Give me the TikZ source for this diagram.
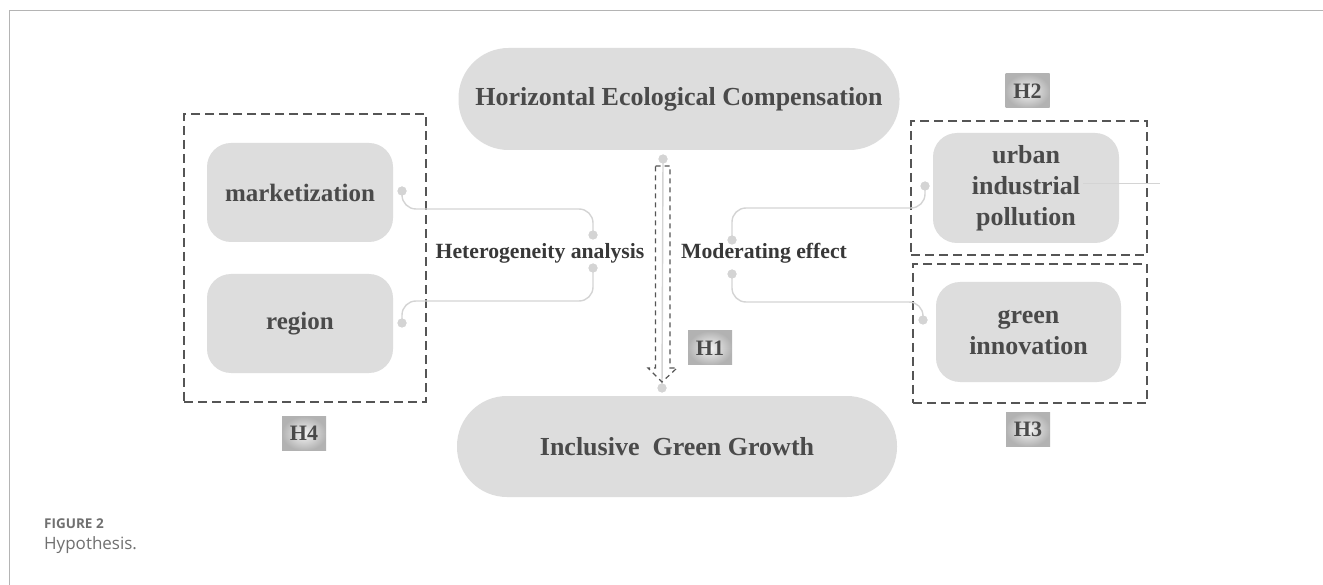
\documentclass[tikz,border=0pt]{standalone}
\usepackage{fontspec}
\setmainfont{Liberation Serif}
\newfontfamily\capfont{Open Sans}
\usetikzlibrary{calc}
\definecolor{boxfill}{HTML}{DDDDDD}
\definecolor{txt}{HTML}{4A4A4A}
\definecolor{linec}{HTML}{D4D4D4}
\definecolor{dashc}{HTML}{555555}
\definecolor{framec}{HTML}{B4B4B4}
\definecolor{capc}{HTML}{707070}
\begin{document}
\begin{tikzpicture}[x=1pt,y=-1pt,
  capsule/.style={fill=boxfill, rounded corners=50pt, minimum width=441pt, minimum height=102pt,
    inner sep=0pt, text=txt, font=\bfseries\fontsize{26}{31}\selectfont},
  rbox/.style={fill=boxfill, rounded corners=24pt, inner sep=0pt, text=txt, align=center,
    font=\bfseries\fontsize{26}{31}\selectfont},
  grp/.style={draw=dashc, line width=1.4pt, dash pattern=on 9pt off 5pt, inner sep=0pt},
  hlab/.style={inner sep=0pt, minimum width=44pt, minimum height=34pt, inner color=gray!8,
    outer color=gray!60, text=txt, font=\bfseries\fontsize{22}{22}\selectfont},
  effect/.style={text=black!78, inner sep=0pt, font=\bfseries\fontsize{21.7}{24}\selectfont},
  conn/.style={draw=linec, line width=1.4pt, rounded corners=14pt},
  dot/.style={circle, fill=linec, inner sep=0pt, minimum size=9pt},
  arrowline/.style={draw=dashc, line width=1.2pt, dash pattern=on 5pt off 4pt, line join=miter},
  capt/.style={anchor=west, inner sep=0pt, text=capc},
]
\useasboundingbox (0,0) rectangle (1323,585);
\fill[white] (0,0) rectangle (1323,585);

% page frame (top and left rules)
\coordinate (frameTR) at (1323,10.5);
\coordinate (frameTL) at (9.5,10.5);
\coordinate (frameBL) at (9.5,585);
\draw[framec, line width=1.5pt] (frameTR) -- (frameTL) -- (frameBL);

% main constructs
\node[capsule] (hec) at (679,99) {Horizontal Ecological Compensation};
\node[capsule, minimum width=440pt, minimum height=101pt] (igg) at (677,446.5) {Inclusive\ \ Green Growth};

% grouping frames
\node[grp, minimum width=242pt, minimum height=288pt] (g4) at (305,258) {};
\node[grp, minimum width=236pt, minimum height=134pt] (g2) at (1029,188) {};
\node[grp, minimum width=234pt, minimum height=139pt] (g3) at (1030,333.5) {};

% variable boxes
\node[rbox, minimum width=186pt, minimum height=99pt, font=\bfseries\fontsize{25}{30}\selectfont] (mkt) at (300,192.5) {marketization};
\node[rbox, minimum width=186pt, minimum height=99pt, font=\bfseries\fontsize{25}{30}\selectfont] (reg) at (300,323.5) {region};
\node[rbox, minimum width=186pt, minimum height=110pt] (uip) at (1026,188) {urban\\industrial\\pollution};
\node[rbox, minimum width=185pt, minimum height=100pt] (gin) at (1028.5,332) {green\\innovation};

% hypothesis tags
\node[hlab] (h1) at (710,348) {H1};
\node[hlab] (h2) at (1027.5,91) {H2};
\node[hlab] (h3) at (1028,429.5) {H3};
\node[hlab] (h4) at (304,433.5) {H4};

% effect labels
\node[effect] (het) at (540,253) {Heterogeneity analysis};
\node[effect] (mod) at (764,253) {Moderating effect};

% connector end points
\node[dot] (dtop) at (663,159) {};
\node[dot] (dbot) at (662,388) {};
\node[dot] (dmkt) at (402,191) {};
\node[dot] (dreg) at (402,323) {};
\node[dot] (dhetA) at (593,235) {};
\node[dot] (dhetB) at (593,268) {};
\node[dot] (dmodA) at (732,240) {};
\node[dot] (dmodB) at (732,274) {};
\node[dot] (duip) at (925,186) {};
\node[dot] (dgin) at (923,320) {};

% connectors
\draw[conn] (dtop.center) -- (dbot.center);
\draw[conn] (dmkt.center) |- (593,209) -- (dhetA.center);
\draw[conn] (dhetB.center) |- (402,301) -- (dreg.center);
\draw[conn] (dmodA.center) |- (925,208) -- (duip.center);
\draw[conn] (dmodB.center) |- (923,302) -- (dgin.center);
\coordinate (stubA) at (1083,184);
\coordinate (stubB) at (1160,184);
\draw[draw=linec, line width=1pt] (stubA) -- (stubB);

% redraw dots over the lines
\foreach \d in {dtop,dbot,dmkt,dreg,dhetA,dhetB,dmodA,dmodB,duip,dgin}
  \fill[linec] (\d) circle (4.5pt);

% hollow dashed main-effect arrow
\coordinate (aTL) at (655.5,166);
\coordinate (aTR) at (670,166);
\coordinate (aRS) at (670,368);
\coordinate (aRH) at (677,368);
\coordinate (aTip) at (662,382);
\coordinate (aLH) at (648,368);
\coordinate (aLS) at (655.5,368);
\draw[arrowline] (aTL) -- (aTR) -- (aRS) -- (aRH) -- (aTip) -- (aLH) -- (aLS) -- cycle;

% caption
\node[capt, font=\capfont\bfseries\fontsize{13.5}{16}\selectfont] (figno) at (44,524) {FIGURE 2};
\node[capt, font=\capfont\fontsize{17}{20}\selectfont] (figcap) at (44,545) {Hypothesis.};
\end{tikzpicture}
\end{document}
